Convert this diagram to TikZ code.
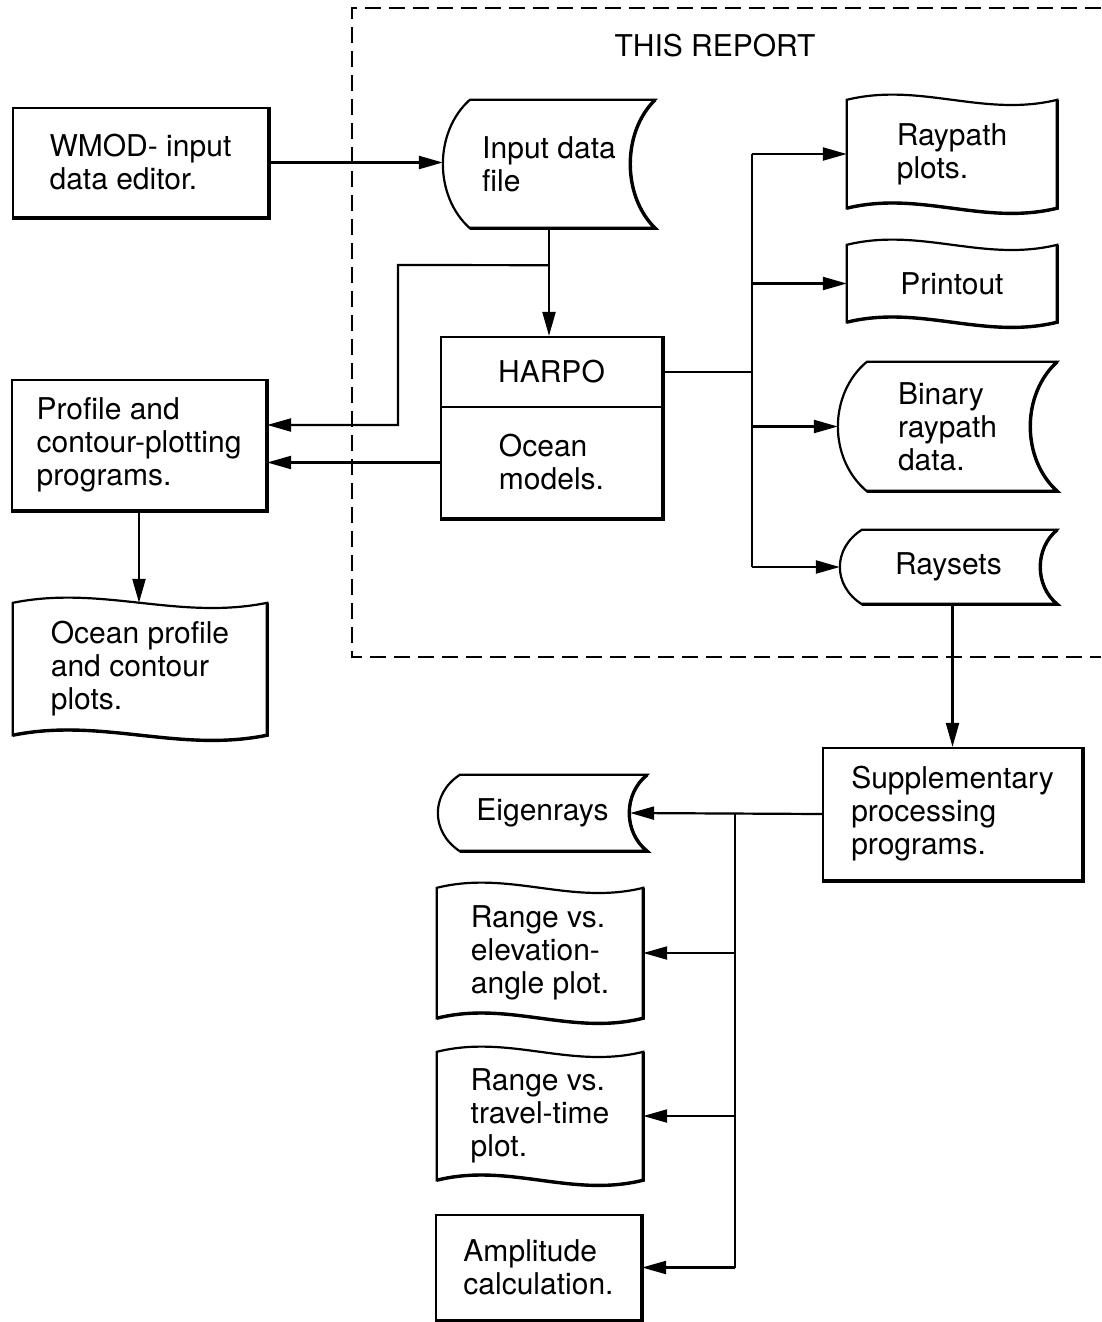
\documentclass[tikz,border=0pt]{standalone}
\usepackage{fontspec}
\setmainfont{TeX Gyre Heros}
\usetikzlibrary{calc,arrows.meta}

\tikzset{
  outline/.style={line width=2.2pt},
  heavy/.style={line width=3.4pt},
  conn/.style={line width=2.2pt},
  arr/.style={conn,-{Triangle[length=24pt,width=13pt]}},
  frame/.style={line width=1.5pt,dash pattern=on 16pt off 8pt},
  blk/.style={inner sep=0pt,align=left,font=\fontsize{30}{33}\selectfont},
  procbox/.style={blk,draw,outline},
}

% heavier right and bottom edges of a plain box
\newcommand\heavyedge[1]{%
  \draw[heavy] (#1.north east) -- (#1.south east) -- (#1.south west);}

% document symbol: wavy top and bottom edges
\newcommand\docshape[2]{%
  \draw[outline] (#1.north west)
    .. controls ($(#1.north west)!0.35!(#1.north east)+(0,-#2)$)
            and ($(#1.north west)!0.65!(#1.north east)+(0,#2)$) .. (#1.north east)
    -- (#1.south east)
    .. controls ($(#1.south west)!0.65!(#1.south east)+(0,#2)$)
            and ($(#1.south west)!0.35!(#1.south east)+(0,-#2)$) .. (#1.south west)
    -- cycle;
  \draw[heavy] (#1.north east) -- (#1.south east)
    .. controls ($(#1.south west)!0.65!(#1.south east)+(0,#2)$)
            and ($(#1.south west)!0.35!(#1.south east)+(0,-#2)$) .. (#1.south west);}

% stored-data symbol: convex left side, concave right side
\newcommand\storedshape[3]{%
  \draw[outline] ($(#1.north west)+(#2,0)$) -- (#1.north east)
    .. controls ($(#1.north east)!0.25!(#1.south east)+(-1.33*#3,0)$)
            and ($(#1.north east)!0.75!(#1.south east)+(-1.33*#3,0)$) .. (#1.south east)
    -- ($(#1.south west)+(#2,0)$)
    .. controls ($(#1.south west)!0.25!(#1.north west)+(-0.33*#2,0)$)
            and ($(#1.south west)!0.75!(#1.north west)+(-0.33*#2,0)$) .. ($(#1.north west)+(#2,0)$)
    -- cycle;
  \draw[heavy] (#1.north east)
    .. controls ($(#1.north east)!0.25!(#1.south east)+(-1.33*#3,0)$)
            and ($(#1.north east)!0.75!(#1.south east)+(-1.33*#3,0)$) .. (#1.south east)
    -- ($(#1.south west)+(#2,0)$);}

\begin{document}
\begin{tikzpicture}[x=1pt,y=-1pt]
\useasboundingbox (0,0) rectangle (1101,1322);

% boundary of the part covered by this report
\coordinate (fa) at (1101,8);
\coordinate (fb) at (352,8);
\coordinate (fc) at (352,657);
\coordinate (fd) at (1101,657);
\draw[frame] (fa) -- (fb) -- (fc) -- (fd);
\node[blk] (title) at (715,46) {THIS REPORT};

% processing boxes
\node[procbox,minimum width=255pt,minimum height=109pt] (wmod) at (140.5,162.5)
  {WMOD- input\\data editor.};
\node[procbox,minimum width=221pt,minimum height=70pt] (harpotop) at (551.5,372) {HARPO};
\node[procbox,minimum width=221pt,minimum height=111pt] (harpobot) at (551.5,462.5)
  {Ocean\\models.};
\node[procbox,minimum width=254pt,minimum height=130pt] (prof) at (139,445)
  {Profile and\\contour-plotting\\programs.};
\node[procbox,minimum width=259pt,minimum height=132pt] (sup) at (952.5,814)
  {Supplementary\\processing\\programs.};
\node[procbox,minimum width=205pt,minimum height=105pt] (amp) at (538.5,1267.5)
  {Amplitude\\calculation.};
\heavyedge{wmod}
\draw[heavy] (harpotop.north east) -- (harpobot.south east) -- (harpobot.south west);
\heavyedge{prof}
\heavyedge{sup}
\heavyedge{amp}

% stored data
\node[blk,minimum width=212pt,minimum height=128pt] (inp) at (549,164) {Input data\\file};
\node[blk,minimum width=219pt,minimum height=129pt] (bin) at (947.5,426.5)
  {Binary\\raypath\\data.};
\node[blk,minimum width=217pt,minimum height=74pt] (rs) at (948.5,567) {Raysets};
\node[blk,minimum width=209pt,minimum height=76pt] (eig) at (542.5,813) {Eigenrays};
\storedshape{inp}{27}{25}
\storedshape{bin}{29}{27}
\storedshape{rs}{22}{17}
\storedshape{eig}{22}{18}

% documents
\node[blk,minimum width=254pt,minimum height=132pt] (ocp) at (140,669)
  {Ocean profile\\and contour\\plots.};
\node[blk,minimum width=210pt,minimum height=108pt] (rp) at (952,154) {Raypath\\plots.};
\node[blk,minimum width=210pt,minimum height=77pt] (pr) at (952,283.5) {Printout};
\node[blk,minimum width=206pt,minimum height=130pt] (rel) at (540,953)
  {Range vs.\\elevation-\\angle plot.};
\node[blk,minimum width=206pt,minimum height=128pt] (rtt) at (540,1116)
  {Range vs.\\travel-time\\plot.};
\docshape{ocp}{18}
\docshape{rp}{18}
\docshape{pr}{18}
\docshape{rel}{18}
\docshape{rtt}{18}

% connectors
\draw[arr] (wmod.east) -- (wmod.east -| inp.west);
\draw[arr] (inp.south) -- (inp.south |- harpotop.north);
\coordinate (j1) at ($(inp.south)+(0,37)$);
\coordinate (k1) at (398,265);
\coordinate (k2) at (398,425);
\draw[arr] (j1) -- (k1) -- (k2) -- (k2 -| prof.east);
\draw[arr] (harpobot.west) -- (harpobot.west -| prof.east);
\draw[arr] (prof.south) -- (prof.south |- ocp.north);

% output bus from HARPO
\coordinate (bus) at (752,0);
\draw[conn] (harpotop.east) -- (harpotop.east -| bus);
\draw[conn] (bus |- rp.west) -- (bus |- rs.west);
\draw[arr] (bus |- rp.west) -- (rp.west);
\draw[arr] (bus |- pr.west) -- (pr.west);
\draw[arr] (bus |- bin.west) -- (bin.west);
\draw[arr] (bus |- rs.west) -- (rs.west);

\draw[arr] (sup.north |- rs.south) -- (sup.north);

% output bus from supplementary programs
\coordinate (bus2) at (735,0);
\coordinate (eigin) at ($(eig.east)+(-17,0)$);
\draw[arr] (sup.west) -- (eigin);
\draw[conn] (bus2 |- sup.west) -- (bus2 |- amp.east);
\draw[arr] (bus2 |- rel.east) -- (rel.east);
\draw[arr] (bus2 |- rtt.east) -- (rtt.east);
\draw[arr] (bus2 |- amp.east) -- (amp.east);
\end{tikzpicture}
\end{document}
